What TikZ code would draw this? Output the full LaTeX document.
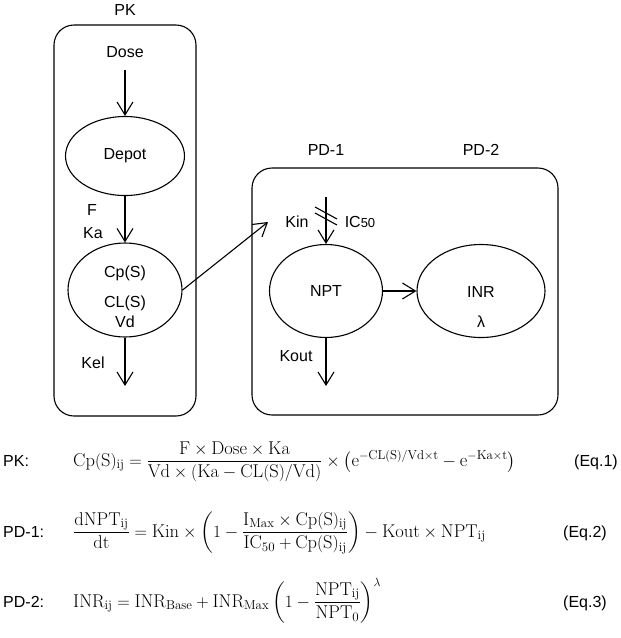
\documentclass[tikz,border=0pt]{standalone}
\usepackage{amsmath}
\usepackage{fontspec}
\newfontfamily\arial{Liberation Sans}
\usetikzlibrary{shapes.geometric,arrows.meta}
\begin{document}
\begin{tikzpicture}[x=1pt,y=-1pt,
  lbl/.style={font=\arial\fontsize{16}{19}\selectfont, inner sep=0pt},
  eqn/.style={font=\fontsize{18.5}{22}\selectfont, inner sep=0pt},
  oval/.style={draw, ellipse, line width=1.1pt, inner sep=0pt},
  box/.style={draw, line width=1.1pt, rounded corners=20pt},
  arr/.style={line width=1.1pt, -{Straight Barb[length=13pt,width=16pt,line width=1.1pt]}},
  tick/.style={line width=1.1pt}]
\useasboundingbox (0,0) rectangle (621,638);
% boxes
\draw[box] (54,25) rectangle (196,416);
\draw[box] (252,168) rectangle (558,415);
% titles
\node[lbl] (pk) at (125,10) {PK};
\node[lbl] (pd1) at (326,150) {PD-1};
\node[lbl] (pd2) at (481,150) {PD-2};
% PK compartment
\node[lbl] (dose) at (125,52) {Dose};
\node[oval, minimum width=119pt, minimum height=79pt, lbl] (depot) at (125,156) {Depot};
\node[oval, minimum width=114pt, minimum height=94pt] (cp) at (125,290) {};
\node[lbl] (cptxt) at (125,273) {Cp(S)};
\node[lbl] (cltxt) at (125,303) {CL(S)};
\node[lbl] (vdtxt) at (125,322) {Vd};
\node[lbl] (f) at (92,210) {F};
\node[lbl] (ka) at (93,233) {Ka};
\node[lbl] (kel) at (93,363) {Kel};
\coordinate (doseend) at (125,70);
\coordinate (kelend) at (125,386);
\draw[arr] (doseend) -- (depot.north);
\draw[arr] (depot.south) -- (cp.north);
\draw[arr] (cp.south) -- (kelend);
% PD compartment
\node[oval, minimum width=113pt, minimum height=93pt, lbl] (npt) at (326,291) {NPT};
\node[oval, minimum width=128pt, minimum height=93pt] (inr) at (481,291) {};
\node[lbl] (inrtxt) at (481,292) {INR};
\node[lbl] (lam) at (481,322) {λ};
\node[lbl] (kin) at (297,222) {Kin};
\node[lbl] (ic) at (360,222) {IC{\fontsize{13}{13}\selectfont 50}};
\node[lbl] (kout) at (296,356) {Kout};
\coordinate (kinstart) at (326,197);
\coordinate (koutend) at (326,386);
\coordinate (pdin) at (268,222);
\draw[arr] (kinstart) -- (npt.north);
\draw[tick] (315,207) -- (337,219);
\draw[tick] (315,213) -- (337,225);
\draw[arr] (npt.south) -- (koutend);
\draw[arr] (npt.east) -- (inr.west);
\draw[arr] (cp.east) -- (pdin);
% equations
\node[lbl, anchor=base west] (l1) at (3,466) {PK:};
\node[lbl, anchor=base west] (l2) at (3,537) {PD-1:};
\node[lbl, anchor=base west] (l3) at (3,607) {PD-2:};
\node[eqn, anchor=base west] (e1) at (73,466) {$\mathrm{Cp(S)_{ij}}=\dfrac{\mathrm{F\times Dose\times Ka}}{\mathrm{Vd\times(Ka-CL(S)/Vd)}}\times\bigl(\mathrm{e}^{-\mathrm{CL(S)/Vd}\times\mathrm{t}}-\mathrm{e}^{-\mathrm{Ka}\times\mathrm{t}}\bigr)$};
\node[eqn, anchor=base west] (e2) at (73,537) {$\dfrac{\mathrm{dNPT_{ij}}}{\mathrm{dt}}=\mathrm{Kin}\times\left(1-\dfrac{\mathrm{I_{Max}\times Cp(S)_{ij}}}{\mathrm{IC_{50}+Cp(S)_{ij}}}\right)-\mathrm{Kout}\times\mathrm{NPT_{ij}}$};
\node[eqn, anchor=base west] (e3) at (73,607) {$\mathrm{INR_{ij}}=\mathrm{INR_{Base}}+\mathrm{INR_{Max}}\left(1-\dfrac{\mathrm{NPT_{ij}}}{\mathrm{NPT_0}}\right)^{\lambda}$};
\node[lbl, anchor=base east] (q1) at (618,466) {(Eq.1)};
\node[lbl, anchor=base east] (q2) at (607,537) {(Eq.2)};
\node[lbl, anchor=base east] (q3) at (607,607) {(Eq.3)};
\end{tikzpicture}
\end{document}
